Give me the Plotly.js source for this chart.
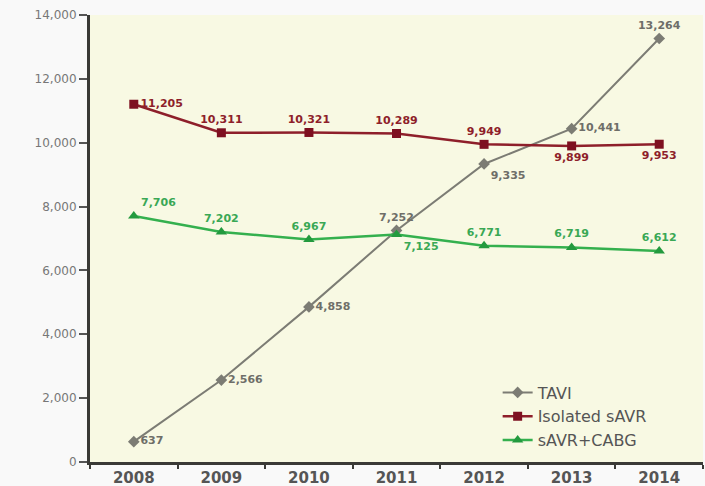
<!DOCTYPE html>
<html>
<head>
<meta charset="utf-8">
<script src="https://cdn.plot.ly/plotly-3.0.1.min.js"></script>
<style>html,body{margin:0;padding:0;background:#f9f9f9;}#chart{width:705px;height:486px;}</style>
</head>
<body>
<div id="chart"></div>
<script>
const years = ['2008', '2009', '2010', '2011', '2012', '2013', '2014'];
const taviValues = [637, 2566, 4858, 7252, 9335, 10441, 13264];
const savrValues = [11205, 10311, 10321, 10289, 9949, 9899, 9953];
const cabgValues = [7706, 7202, 6967, 7125, 6771, 6719, 6612];
const seriesNames = ['TAVI', 'Isolated sAVR', 'sAVR+CABG'];
const yTickVals = [0, 2000, 4000, 6000, 8000, 10000, 12000, 14000];

const fmt = v => v.toLocaleString('en-US');

const taviPos = ['middle right', 'middle right', 'middle right', 'top center', 'bottom right', 'middle right', 'top center'];
const savrPos = ['middle right', 'top center', 'top center', 'top center', 'top center', 'bottom center', 'bottom center'];
const cabgPos = ['top right', 'top center', 'top center', 'bottom right', 'top center', 'top center', 'top center'];

const FONT = 'DejaVu Sans, Verdana, sans-serif';
const labelFont = {family: FONT, size: 11, weight: 'bold'};

const traces = [
  {
    x: years, y: taviValues, name: seriesNames[0], type: 'scatter', mode: 'lines+markers+text',
    line: {color: '#7c7c74', width: 2},
    marker: {symbol: 'diamond', size: 9, color: '#7c7c74'},
    text: taviValues.map(fmt), textposition: taviPos,
    textfont: Object.assign({color: '#6e6e68'}, labelFont),
    cliponaxis: false
  },
  {
    x: years, y: savrValues, name: seriesNames[1], type: 'scatter', mode: 'lines+markers+text',
    line: {color: '#8e1f2a', width: 2.5},
    marker: {symbol: 'square', size: 9, color: '#7e1020'},
    text: savrValues.map(fmt), textposition: savrPos,
    textfont: Object.assign({color: '#8e1f2a'}, labelFont),
    cliponaxis: false
  },
  {
    x: years, y: cabgValues, name: seriesNames[2], type: 'scatter', mode: 'lines+markers+text',
    line: {color: '#34b04e', width: 2.5},
    marker: {symbol: 'triangle-up', size: 10, color: '#239a3e'},
    text: cabgValues.map(fmt), textposition: cabgPos,
    textfont: Object.assign({color: '#3aa855'}, labelFont),
    cliponaxis: false
  }
];

const layout = {
  width: 705, height: 486,
  margin: {l: 90, r: 2, t: 15, b: 24},
  paper_bgcolor: '#f9f9f9',
  plot_bgcolor: '#f8f9e3',
  showlegend: true,
  legend: {
    x: 0.665, y: 0.01, xanchor: 'left', yanchor: 'bottom',
    bgcolor: 'rgba(0,0,0,0)',
    font: {family: FONT, size: 16, color: '#555'},
    tracegroupgap: 0
  },
  xaxis: {
    type: 'category',
    range: [-0.5, 6.5],
    showgrid: false, zeroline: false,
    showline: true, linecolor: '#3a3a36', linewidth: 3,
    ticks: 'outside', tickson: 'boundaries', ticklen: 4, tickwidth: 2, tickcolor: '#3a3a36',
    tickfont: {family: FONT, size: 15, color: '#555', weight: 'bold'}
  },
  yaxis: {
    range: [0, 14000],
    tickvals: yTickVals,
    tickformat: ',d',
    showgrid: false, zeroline: false,
    showline: true, linecolor: '#3a3a36', linewidth: 3,
    ticks: 'outside', ticklen: 8, tickwidth: 2, tickcolor: '#555',
    tickfont: {family: FONT, size: 12, color: '#777'}
  }
};

Plotly.newPlot('chart', traces, layout, {displayModeBar: false, staticPlot: true});
</script>
</body>
</html>
